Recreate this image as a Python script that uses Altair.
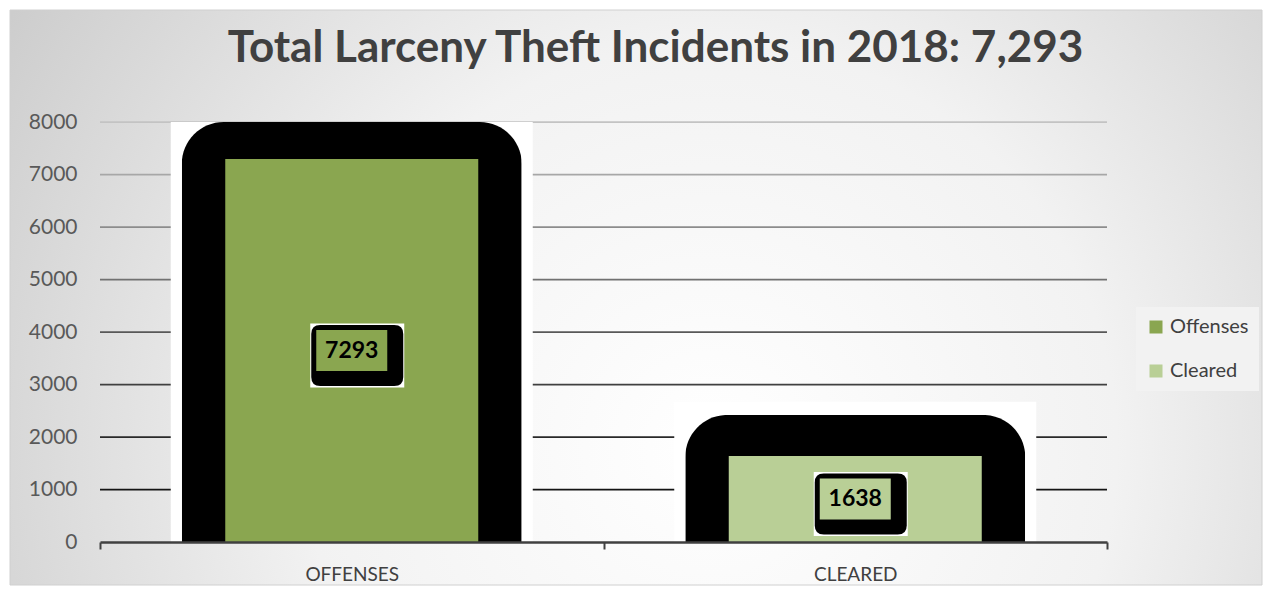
import altair as alt
import pandas as pd

TITLE = "Total Larceny Theft Incidents in 2018: 7,293"
categories = ["Offenses", "Cleared"]
values = [7293, 1638]
shadow_tops = [8000, 2420]    # black rounded artifact shapes behind bars
backing_tops = [8000, 2670]   # white rectangles behind the black shapes
bar_colors = ["#8aa650", "#b9cf96"]
grid_values = [1000, 2000, 3000, 4000, 5000, 6000, 7000, 8000]
y_ticks = [0, 1000, 2000, 3000, 4000, 5000, 6000, 7000, 8000]

W, H = 1007, 420
PAD = {"left": 92, "top": 114, "right": 157, "bottom": 45}

df = pd.DataFrame({"category": categories, "value": values,
                   "shadow": shadow_tops, "backing": backing_tops})
grid_df = pd.DataFrame({"tick": grid_values})
one = pd.DataFrame({"k": [0]})

FONT = "Lato"

x_enc = alt.X(
    "category:N", sort=categories,
    scale=alt.Scale(paddingInner=0, paddingOuter=0),
    axis=alt.Axis(title=None, labelExpr="upper(datum.label)", labelFont=FONT,
                  labelFontSize=19, labelColor="#404040", labelPadding=16,
                  labelAngle=0, tickBand="extent", tickSize=7, tickColor="#404040",
                  tickWidth=2, domainColor="#404040", domainWidth=2.5, grid=False,
                  zindex=1),
)


def yenc(field):
    return alt.Y(
        field, scale=alt.Scale(domain=[0, 8000], nice=False),
        axis=alt.Axis(values=y_ticks, format="d", title=None, domain=False,
                      ticks=False, grid=False, labelFont=FONT, labelFontSize=21,
                      labelColor="#595959", labelPadding=23, zindex=1),
    )


color_enc = alt.Color(
    "category:N", sort=categories,
    scale=alt.Scale(domain=categories, range=bar_colors),
    legend=alt.Legend(title=None, orient="none", legendX=1036, legendY=185,
                      symbolType="square", symbolSize=169, symbolStrokeWidth=0,
                      labelFont=FONT, labelFontSize=20, labelColor="#404040",
                      fillColor="#f2f2f2", padding=10, rowPadding=24, labelOffset=4),
)

background = alt.Chart(one).mark_rect(
    fill={"gradient": "radial",
          "x1": 0.56, "y1": 0.62, "r1": 0,
          "x2": 0.56, "y2": 0.62, "r2": 0.72,
          "stops": [{"offset": 0, "color": "#ffffff"},
                    {"offset": 0.45, "color": "#f2f2f2"},
                    {"offset": 1, "color": "#c6c6c6"}]},
    stroke="#d0d0d0", strokeWidth=1,
).encode(x=alt.value(-PAD["left"] + 2), x2=alt.value(W + PAD["right"] - 2),
         y=alt.value(-PAD["top"] + 2), y2=alt.value(H + PAD["bottom"] - 2))

grid = alt.Chart(grid_df).mark_rule(strokeWidth=1.75).encode(
    x=alt.value(0), x2=alt.value(W), y=yenc("tick:Q"),
    stroke=alt.Stroke("tick:Q", scale=alt.Scale(domain=[1000, 8000],
                                                range=["#141414", "#c3c3c3"]),
                      legend=None),
)

backing = alt.Chart(df).mark_bar(size=362, color="white").encode(
    x=x_enc, y=yenc("backing:Q"))

shadow = alt.Chart(df).mark_bar(size=340, color="black",
                                cornerRadiusTopLeft=42, cornerRadiusTopRight=42).encode(
    x=x_enc, y=yenc("shadow:Q"))

bars = alt.Chart(df).mark_bar(size=253).encode(
    x=x_enc, y=yenc("value:Q"), color=color_enc)

half = alt.Chart(df).transform_calculate(half="datum.value / 2")

lbl_white = half.mark_point(
    shape="M-1,-0.68H1V0.68H-1Z", size=8836, filled=True, opacity=1,
    color="white", xOffset=5.5, yOffset=5,
).encode(x=x_enc, y=yenc("half:Q"))

lbl_black = half.mark_point(
    shape=("M-0.804,-0.663H0.804Q1,-0.663 1,-0.467V0.467Q1,0.663 0.804,0.663"
           "H-0.804Q-1,0.663 -1,0.467V-0.467Q-1,-0.663 -0.804,-0.663Z"),
    size=8464, filled=True, opacity=1, color="black", xOffset=5.5, yOffset=5,
).encode(x=x_enc, y=yenc("half:Q"))

lbl_green = half.mark_point(
    shape="M-1,-0.577H1V0.577H-1Z", size=5041, filled=True, opacity=1,
).encode(x=x_enc, y=yenc("half:Q"), color=color_enc)

lbl_text = half.mark_text(font=FONT, fontWeight="bold", fontSize=23, color="black",
                          align="center", baseline="middle").encode(
    x=x_enc, y=yenc("half:Q"), text=alt.Text("value:Q", format="d"))

title = alt.Chart(one).mark_text(font=FONT, fontWeight="bold", fontSize=44,
                                 color="#404040", align="center",
                                 baseline="alphabetic").encode(
    x=alt.value(555.5), y=alt.value(-60), text=alt.value(TITLE))

chart = alt.layer(background, grid, backing, shadow, bars, lbl_white, lbl_black,
                  lbl_green, lbl_text, title).properties(
    width=W, height=H, padding=PAD,
    autosize=alt.AutoSizeParams(type="none"),
    background="white",
).configure_view(strokeWidth=0)

chart.save("out.html", embed_options={"renderer": "svg", "actions": False})
